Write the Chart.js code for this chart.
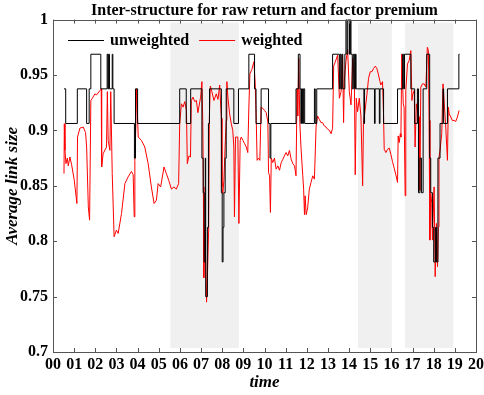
<!DOCTYPE html>
<html>
<head>
<meta charset="utf-8">
<script src="https://cdn.jsdelivr.net/npm/chart.js@4"></script>
<style>
html, body { margin: 0; padding: 0; background: #fff; }
</style>
</head>
<body>
<canvas id="chart" width="484" height="395"></canvas>
<script>
// weighted (red) series: time in years since 2000, average link size
var redT = [0.52, 0.535, 0.566, 0.613, 0.676, 0.723, 0.80, 0.88, 1.006, 1.13, 1.16, 1.27, 1.43, 1.54, 1.59, 1.67, 1.73, 1.79, 1.86, 1.98,
    2.06, 2.22, 2.28, 2.30, 2.37, 2.53, 2.57, 2.61, 2.69, 2.73, 2.80, 2.89, 3.0, 3.08, 3.24, 3.40, 3.55, 3.71, 3.79, 3.84,
    3.87, 3.92, 3.95, 4.03, 4.18, 4.34, 4.50, 4.65, 4.78, 4.89, 4.97, 5.09, 5.25, 5.36, 5.47, 5.60, 5.72, 5.83, 5.94, 5.99,
    6.07, 6.15, 6.23, 6.31, 6.35, 6.43, 6.50, 6.54, 6.62, 6.70, 6.78, 6.85, 6.98, 7.04, 7.08, 7.11, 7.13, 7.17, 7.22, 7.26,
    7.30, 7.36, 7.39, 7.44, 7.51, 7.61, 7.72, 7.80, 7.88, 7.96, 7.99, 8.03, 8.08, 8.15, 8.19, 8.22, 8.27, 8.35, 8.43, 8.50,
    8.55, 8.58, 8.63, 8.74, 8.79, 8.85, 8.90, 8.98, 9.06, 9.14, 9.21, 9.26, 9.31, 9.40, 9.50, 9.56, 9.61, 9.65, 9.72, 9.78,
    9.84, 9.92, 10.0, 10.08, 10.16, 10.19, 10.24, 10.28, 10.32, 10.39, 10.47, 10.55, 10.63, 10.71, 10.79, 10.87, 10.94, 11.02, 11.10, 11.18,
    11.26, 11.34, 11.42, 11.49, 11.54, 11.57, 11.62, 11.67, 11.73, 11.81, 11.85, 11.89, 11.92, 11.97, 12.04, 12.12, 12.20, 12.28, 12.36, 12.44,
    12.51, 12.59, 12.67, 12.75, 12.83, 12.91, 12.99, 13.07, 13.15, 13.22, 13.27, 13.33, 13.46, 13.54, 13.62, 13.69, 13.74, 13.77, 13.85, 13.93,
    14.01, 14.09, 14.17, 14.25, 14.29, 14.34, 14.40, 14.48, 14.56, 14.64, 14.68, 14.75, 14.84, 14.92, 15.0, 15.08, 15.16, 15.24, 15.31, 15.38,
    15.46, 15.50, 15.58, 15.63, 15.66, 15.74, 15.82, 15.90, 15.98, 16.05, 16.13, 16.21, 16.29, 16.32, 16.37, 16.42, 16.45, 16.49, 16.56, 16.60,
    16.65, 16.68, 16.76, 16.84, 16.92, 16.97, 17.0, 17.08, 17.12, 17.18, 17.23, 17.31, 17.34, 17.39, 17.47, 17.55, 17.63, 17.70, 17.75, 17.78,
    17.82, 17.86, 17.91, 17.94, 18.02, 18.07, 18.13, 18.18, 18.22, 18.25, 18.30, 18.38, 18.44, 18.51, 18.57, 18.65, 18.69, 18.73, 18.81, 18.88,
    18.96, 19.04, 19.12, 19.20];
var redV = [0.861, 0.906, 0.882, 0.870, 0.875, 0.868, 0.876, 0.869, 0.855, 0.834, 0.894, 0.902, 0.903, 0.898, 0.885, 0.831, 0.819, 0.927, 0.929, 0.933,
    0.932, 0.936, 0.9375, 0.867, 0.879, 0.885, 0.935, 0.891, 0.882, 0.935, 0.861, 0.804, 0.810, 0.807, 0.825, 0.852, 0.858, 0.863, 0.860, 0.822,
    0.873, 0.906, 0.9375, 0.894, 0.891, 0.885, 0.870, 0.849, 0.834, 0.837, 0.852, 0.849, 0.867, 0.861, 0.855, 0.847, 0.849, 0.847, 0.852, 0.906,
    0.924, 0.921, 0.926, 0.918, 0.870, 0.877, 0.876, 0.927, 0.930, 0.926, 0.927, 0.916, 0.930, 0.944, 0.909, 0.849, 0.767, 0.810, 0.783, 0.745,
    0.768, 0.810, 0.911, 0.940, 0.935, 0.927, 0.933, 0.928, 0.941, 0.911, 0.849, 0.843, 0.855, 0.891, 0.909, 0.944, 0.930, 0.915, 0.906, 0.900,
    0.885, 0.822, 0.894, 0.894, 0.816, 0.891, 0.894, 0.891, 0.888, 0.885, 0.880, 0.921, 0.951, 0.955, 0.962, 0.942, 0.909, 0.873, 0.875, 0.873,
    0.921, 0.920, 0.918, 0.916, 0.9075, 0.862, 0.859, 0.826, 0.875, 0.871, 0.875, 0.865, 0.868, 0.864, 0.871, 0.874, 0.877, 0.880, 0.877, 0.882,
    0.874, 0.870, 0.868, 0.859, 0.9375, 0.913, 0.965, 0.907, 0.883, 0.859, 0.847, 0.824, 0.841, 0.824, 0.830, 0.847, 0.853, 0.859, 0.856, 0.904,
    0.913, 0.910, 0.907, 0.907, 0.904, 0.903, 0.901, 0.900, 0.897, 0.902, 0.958, 0.961, 0.968, 0.929, 0.935, 0.968, 0.907, 0.944, 0.962, 0.973,
    0.935, 0.923, 0.965, 0.944, 0.860, 0.929, 0.917, 0.929, 0.913, 0.850, 0.907, 0.917, 0.932, 0.947, 0.953, 0.953, 0.956, 0.958, 0.956, 0.951,
    0.944, 0.941, 0.944, 0.913, 0.883, 0.880, 0.883, 0.884, 0.878, 0.872, 0.866, 0.860, 0.853, 0.895, 0.889, 0.897, 0.894, 0.969, 0.924, 0.921,
    0.841, 0.936, 0.960, 0.963, 0.972, 0.927, 0.932, 0.936, 0.885, 0.924, 0.918, 0.912, 0.846, 0.939, 0.942, 0.942, 0.939, 0.975, 0.972, 0.909,
    0.801, 0.843, 0.834, 0.801, 0.849, 0.768, 0.816, 0.777, 0.813, 0.876, 0.882, 0.897, 0.942, 0.921, 0.903, 0.873, 0.921, 0.915, 0.912, 0.909,
    0.909, 0.908, 0.912, 0.918];

// unweighted (black) series: step starts and the level held until the next start
var blackT = [0.52, 0.60, 1.15, 1.59, 1.71, 1.79, 2.26, 2.56, 2.60, 2.63, 2.67, 2.80, 2.83, 2.89, 3.85, 3.90, 4.00, 5.99, 6.30, 6.51,
    7.04, 7.10, 7.15, 7.20, 7.22, 7.30, 7.35, 7.40, 7.96, 8.00, 8.04, 8.08, 8.14, 8.19, 8.55, 8.77, 9.26, 9.53, 9.60, 9.84,
    10.19, 10.26, 10.30, 11.49, 11.60, 11.68, 11.72, 11.75, 11.80, 11.84, 11.90, 12.36, 12.40, 12.47, 13.22, 13.54, 13.58, 13.62, 13.66, 13.70,
    13.80, 13.85, 13.90, 13.94, 14.02, 14.06, 14.09, 14.15, 14.20, 14.26, 14.30, 14.33, 14.70, 14.73, 15.20, 15.23, 15.43, 15.46, 15.63, 16.29,
    16.53, 16.58, 16.62, 16.92, 17.10, 17.23, 17.28, 17.35, 17.42, 17.50, 17.67, 17.81, 17.86, 17.94, 18.00, 18.08, 18.13, 18.20, 18.30, 18.44,
    18.47, 18.65, 19.19, 19.22];
var blackV = [0.9375, 0.90625, 0.9375, 0.90625, 0.9375, 0.96875, 0.9375, 0.96875, 0.9375, 0.96875, 0.9375, 0.96875, 0.9375, 0.90625, 0.875, 0.9375, 0.90625, 0.9375, 0.90625, 0.9375,
    0.875, 0.84375, 0.78125, 0.875, 0.75, 0.8125, 0.90625, 0.9375, 0.84375, 0.78125, 0.8125, 0.84375, 0.875, 0.9375, 0.90625, 0.9375, 0.96875, 0.9375, 0.90625, 0.9375,
    0.90625, 0.875, 0.90625, 0.9375, 0.96875, 0.9375, 0.90625, 0.9375, 0.90625, 0.9375, 0.90625, 0.9375, 0.90625, 0.9375, 0.96875, 0.9375, 0.96875, 0.9375, 0.96875, 0.9375,
    0.96875, 1.0, 0.96875, 1.0, 0.96875, 1.0, 0.96875, 0.9375, 0.96875, 0.9375, 0.96875, 0.9375, 0.90625, 0.9375, 0.90625, 0.9375, 0.90625, 0.9375, 0.90625, 0.9375,
    0.96875, 0.9375, 0.96875, 0.9375, 0.90625, 0.9375, 0.84375, 0.875, 0.84375, 0.9375, 0.96875, 0.875, 0.84375, 0.8125, 0.78125, 0.8125, 0.78125, 0.875, 0.90625, 0.9375,
    0.90625, 0.9375, 0.96875, 0.96875];

// shaded periods
var shadeStart = [5.55, 14.42, 16.64];
var shadeEnd = [8.79, 16.02, 18.93];

var serif = 'Liberation Serif';

function pairs(ts, vs) {
    var out = [];
    for (var i = 0; i < ts.length; i++) {
        out.push({ x: ts[i], y: vs[i] });
    }
    return out;
}

var framePlugin = {
    id: 'frame',
    beforeDatasetsDraw: function (chart) {
        var ctx = chart.ctx;
        var area = chart.chartArea;
        var xs = chart.scales.x;
        ctx.save();
        ctx.fillStyle = '#f0f0f0';
        for (var i = 0; i < shadeStart.length; i++) {
            var x0 = xs.getPixelForValue(shadeStart[i]);
            var x1 = xs.getPixelForValue(shadeEnd[i]);
            ctx.fillRect(x0, area.top + 3, x1 - x0, area.bottom - area.top - 7);
        }
        ctx.restore();
    },
    afterDraw: function (chart) {
        var ctx = chart.ctx;
        var area = chart.chartArea;
        var xs = chart.scales.x;
        var ys = chart.scales.y;
        ctx.save();
        ctx.strokeStyle = '#555';
        ctx.lineWidth = 1;
        ctx.beginPath();
        xs.ticks.forEach(function (t) {
            var px = Math.round(xs.getPixelForValue(t.value)) + 0.5;
            ctx.moveTo(px, area.bottom);
            ctx.lineTo(px, area.bottom - 4);
            ctx.moveTo(px, area.top);
            ctx.lineTo(px, area.top + 4);
        });
        ys.ticks.forEach(function (t) {
            var py = Math.round(ys.getPixelForValue(t.value)) + 0.5;
            ctx.moveTo(area.left, py);
            ctx.lineTo(area.left + 4, py);
            ctx.moveTo(area.right, py);
            ctx.lineTo(area.right - 4, py);
        });
        ctx.stroke();
        ctx.strokeRect(Math.round(area.left) + 0.5, Math.round(area.top) + 0.5,
            Math.round(area.right - area.left), Math.round(area.bottom - area.top));

        // legend inside the plot, one row
        ctx.font = 'bold 16px ' + serif;
        ctx.textBaseline = 'middle';
        var lx = area.left + 15;
        var ly = Math.round(area.top + 20) + 0.5;
        chart.data.datasets.forEach(function (ds) {
            ctx.strokeStyle = ds.borderColor;
            ctx.beginPath();
            ctx.moveTo(lx, ly);
            ctx.lineTo(lx + 36, ly);
            ctx.stroke();
            ctx.fillStyle = '#000';
            ctx.fillText(ds.label, lx + 42, ly);
            lx += 42 + ctx.measureText(ds.label).width + 10;
        });
        ctx.restore();
    }
};

new Chart(document.getElementById('chart'), {
    type: 'line',
    data: {
        datasets: [{
            label: 'unweighted',
            data: pairs(blackT, blackV),
            borderColor: '#000',
            backgroundColor: '#000',
            borderWidth: 1,
            stepped: true,
            pointRadius: 0
        }, {
            label: 'weighted',
            data: pairs(redT, redV),
            borderColor: '#ff0000',
            backgroundColor: '#ff0000',
            borderWidth: 1,
            pointRadius: 0
        }]
    },
    options: {
        responsive: false,
        animation: false,
        layout: { padding: { left: 0, right: 0, top: 2, bottom: 0 } },
        plugins: {
            title: {
                display: true,
                fullSize: false,
                text: 'Inter-structure for raw return and factor premium',
                color: '#000',
                font: { family: serif, size: 16, weight: 'bold', lineHeight: 1.1 },
                padding: { top: 0, bottom: 0 }
            },
            legend: { display: false },
            tooltip: { enabled: false }
        },
        scales: {
            x: {
                type: 'linear',
                min: 0,
                max: 20,
                afterFit: function (s) {
                    s.height = 43;
                    s.paddingLeft = 0;
                    s.paddingRight = 8;
                },
                grid: { display: false, drawTicks: false },
                border: { display: false },
                ticks: {
                    stepSize: 1,
                    padding: 3,
                    autoSkip: false,
                    maxRotation: 0,
                    minRotation: 0,
                    color: '#000',
                    font: { family: serif, size: 16, weight: 'bold' },
                    callback: function (v) { return String(v).padStart(2, '0'); }
                },
                title: {
                    display: true,
                    text: 'time',
                    color: '#000',
                    font: { family: serif, size: 17, weight: 'bold', style: 'italic' },
                    padding: { top: 0, bottom: 2 }
                }
            },
            y: {
                min: 0.7,
                max: 1,
                afterFit: function (s) { s.width = 53; },
                grid: { display: false, drawTicks: false },
                border: { display: false },
                ticks: {
                    stepSize: 0.05,
                    padding: 5,
                    color: '#000',
                    font: { family: serif, size: 16, weight: 'bold' },
                    callback: function (v) { return String(Number(v.toFixed(2))); }
                },
                title: {
                    display: true,
                    text: 'Average link size',
                    color: '#000',
                    font: { family: serif, size: 17, weight: 'bold', style: 'italic' },
                    padding: { top: 2, bottom: 0 }
                }
            }
        }
    },
    plugins: [framePlugin]
});
</script>
</body>
</html>
